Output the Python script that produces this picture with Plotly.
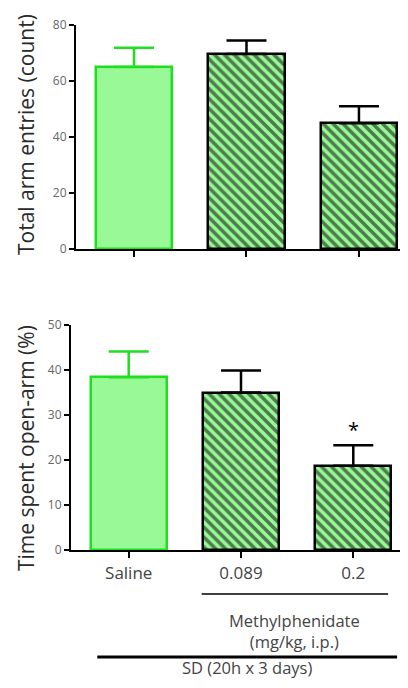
import plotly.graph_objects as go

groups = ["Saline", "0.089", "0.2"]
entries_mean = [65.0, 69.6, 44.9]
entries_sem = [6.9, 4.9, 6.1]
openarm_mean = [38.4, 35.0, 18.7]
openarm_sem = [5.7, 4.9, 4.6]
entries_ticks = [0, 20, 40, 60, 80]
openarm_ticks = [0, 10, 20, 30, 40, 50]
sig_marks = ["", "", "*"]

LIGHT = "#99f997"
GREEN = "#1ee01e"
FONT = "Open Sans"
xs = list(range(len(groups)))

# the page body has an 8px margin, so the figure is drawn inside it
OFF, W, H = 8, 392, 672
def px(x):
    return (x - OFF) / W
def py(y):
    return 1 - (y - OFF) / H

fig = go.Figure()

def add_bars(means, sems, xa, ya):
    fig.add_trace(go.Bar(
        x=[xs[0]], y=[means[0]], width=0.676, xaxis=xa, yaxis=ya,
        marker=dict(color=LIGHT, line=dict(color=GREEN, width=2.5)),
        error_y=dict(type="data", symmetric=False, array=[sems[0]], arrayminus=[0],
                     color=GREEN, thickness=2.5, width=20),
        showlegend=False))
    fig.add_trace(go.Bar(
        x=xs[1:], y=means[1:], width=0.676, xaxis=xa, yaxis=ya,
        marker=dict(color=LIGHT, line=dict(color="black", width=2.5),
                    pattern=dict(shape="\\", fgcolor="black", bgcolor=LIGHT,
                                 size=7, solidity=0.5)),
        error_y=dict(type="data", symmetric=False, array=sems[1:], arrayminus=[0, 0],
                     color="black", thickness=2.5, width=20),
        showlegend=False))

add_bars(entries_mean, entries_sem, "x", "y")
add_bars(openarm_mean, openarm_sem, "x2", "y2")

for i, s in enumerate(sig_marks):
    if s:
        fig.add_annotation(x=xs[i], y=openarm_mean[i] + openarm_sem[i] + 3.5, xref="x2", yref="y2",
                           text=s, showarrow=False, font=dict(size=20, color="black", family=FONT),
                           yanchor="middle")

tickfont = dict(size=12, color="#666", family=FONT)
axcommon = dict(showgrid=False, zeroline=False, showline=True, linecolor="black", linewidth=2,
                ticks="outside", tickcolor="black", tickwidth=1.5, automargin=False)

fig.update_layout(
    width=W, height=H, margin=dict(l=0, r=0, t=0, b=0, autoexpand=False),
    plot_bgcolor="white", paper_bgcolor="white", bargap=0,
    xaxis=dict(domain=[px(76), 1], range=[-0.516, 2.365], tickvals=xs, ticktext=["", "", ""],
               anchor="y", ticklen=6, **axcommon),
    yaxis=dict(domain=[py(249), py(25)], range=[0, 80], tickvals=entries_ticks,
               tickfont=tickfont, anchor="x", ticklen=5, **axcommon),
    xaxis2=dict(domain=[px(71), 1], range=[-0.514, 2.416], tickvals=xs, ticktext=groups,
                tickfont=dict(size=17, color="#444", family=FONT), anchor="y2", ticklen=6,
                ticklabelstandoff=1, **axcommon),
    yaxis2=dict(domain=[py(550), py(325)], range=[0, 50], tickvals=openarm_ticks,
                tickfont=tickfont, anchor="x2", ticklen=5, **axcommon),
)

titlefont = dict(size=21, color="#2a2a2a", family=FONT)
fig.add_annotation(x=px(26), y=py(135), xref="paper", yref="paper", text="Total arm entries (count)",
                   textangle=-90, showarrow=False, font=titlefont, xanchor="center", yanchor="middle",
                   borderpad=0)
fig.add_annotation(x=px(26), y=py(448), xref="paper", yref="paper", text="Time spent open-arm (%)",
                   textangle=-90, showarrow=False, font=titlefont, xanchor="center", yanchor="middle",
                   borderpad=0)

labfont = dict(size=16.5, color="#444", family=FONT)
fig.add_shape(type="line", xref="x2", yref="paper", x0=xs[1]-0.35, x1=xs[2]+0.31,
              y0=py(594), y1=py(594), line=dict(color="black", width=1.5))
fig.add_annotation(x=(xs[1]+xs[2])/2 - 0.02, y=py(631), xref="x2", yref="paper",
                   text="Methylphenidate<br>(mg/kg, i.p.)",
                   showarrow=False, font=labfont, yanchor="middle", borderpad=0)
fig.add_shape(type="line", xref="x2", yref="paper", x0=xs[0]-0.28, x1=xs[2]+0.39,
              y0=py(657), y1=py(657), line=dict(color="black", width=3))
fig.add_annotation(x=xs[1]+0.05, y=0, xref="x2", yref="paper", text="SD (20h x 3 days)",
                   showarrow=False, font=labfont, yanchor="bottom", borderpad=0)

fig.write_html("out.html")
